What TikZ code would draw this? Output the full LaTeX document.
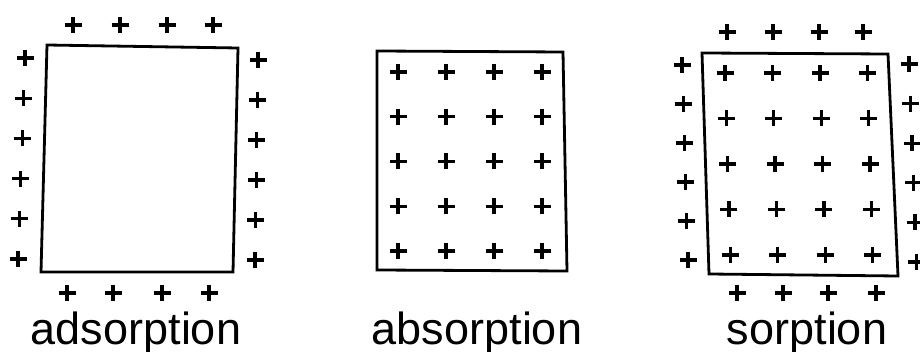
\documentclass[tikz,border=0pt]{standalone}
\usepackage{fontspec}
\usepackage{tikz}
\newfontfamily\labelfont{Liberation Sans}
\tikzset{
  wall/.style={draw=black, line width=2.8pt, line join=miter},
  pics/charge/.style={
    code={
      \draw[line width=3.3pt] (-8.5,0) -- (8.5,0);
      \draw[line width=3.3pt] (0,-8) -- (0,8);
    }
  },
  caption/.style={anchor=base, inner sep=0pt, font=\labelfont\fontsize{45}{54}\selectfont}
}
\begin{document}
\begin{tikzpicture}[x=1pt, y=-1pt]
  \useasboundingbox (0,0) rectangle (920,352);

  % adsorption: charges on the surface only
  \draw[wall] (47,45) -- (238,48) -- (233,272) -- (41,272) -- cycle;
  \foreach \x in {73,120,167,213} \pic at (\x,25) {charge};
  \foreach \x in {67,113,162,209} \pic at (\x,293) {charge};
  \foreach \j in {0,...,5} {
    \pic at ({25-1.4*\j},{58+40.2*\j}) {charge};
    \pic at ({258-0.6*\j},{60+40*\j}) {charge};
  }
  \node[caption] (ads) at (136,344) {adsorption};

  % absorption: charges in the bulk
  \draw[wall] (377,51) -- (563,52) -- (567,271) -- (377,270) -- cycle;
  \foreach \i in {0,...,3}
    \foreach \j in {0,...,4}
      \pic at ({398+48*\i},{72+44.75*\j}) {charge};
  \node[caption] (abs) at (477,344) {absorption};

  % sorption: both
  \draw[wall] (702,53) -- (888,54) -- (898,276) -- (709,274) -- cycle;
  \foreach \x in {727,773,819,863} \pic at (\x,32) {charge};
  \foreach \x in {737,783,828,876} \pic at (\x,293) {charge};
  \foreach \j in {0,...,5} {
    \pic at ({682+1.2*\j},{65+39*\j}) {charge};
    \pic at ({909+1.5*\j},{64+39.6*\j}) {charge};
  }
  \foreach \i in {0,...,3}
    \foreach \j in {0,...,4}
      \pic at ({725+47.5*\i+1.3*\j},{73+45.5*\j}) {charge};
  \node[caption] (sorp) at (807,344) {sorption};
\end{tikzpicture}
\end{document}
